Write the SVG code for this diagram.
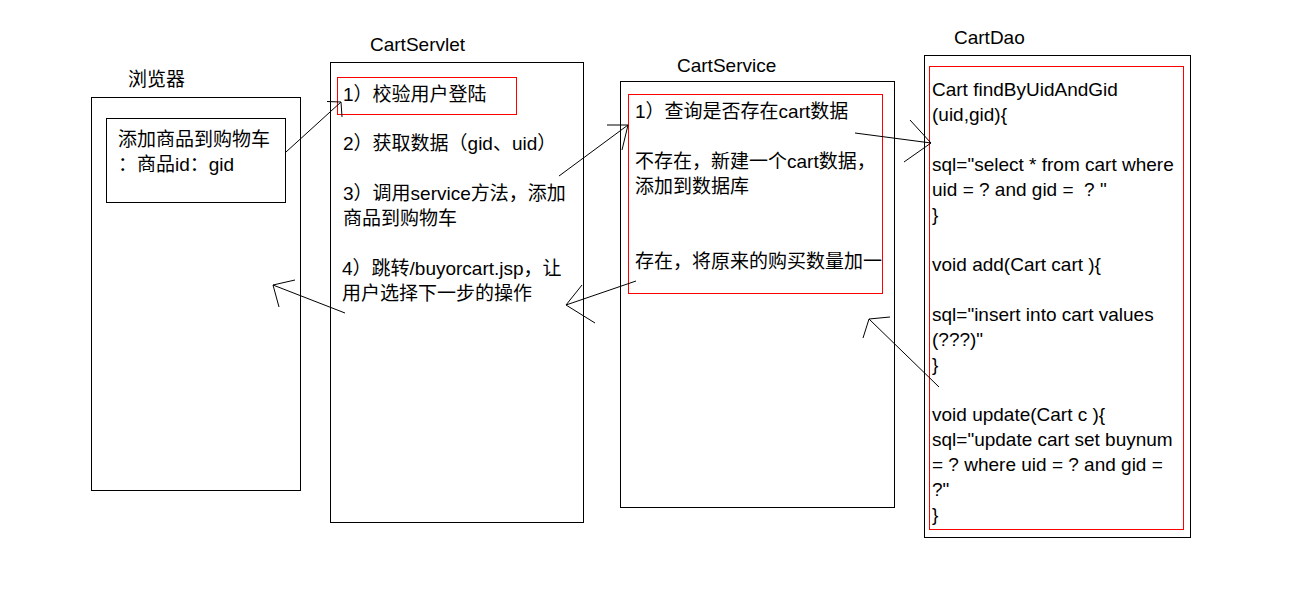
<svg xmlns="http://www.w3.org/2000/svg" width="1303" height="604" viewBox="0 0 1303 604">
<style>
text{font-family:"Liberation Sans","Noto Sans CJK SC",sans-serif;font-size:19px;fill:#000;white-space:pre}
.box{fill:none;stroke:#000;stroke-width:1}
.red{fill:none;stroke:#f00;stroke-width:1}
.c{fill:none;stroke:#000;stroke-width:1}
</style>
<rect width="1303" height="604" fill="#fff"/>
<g id="browser">
<text x="128" y="86">浏览器</text>
<rect class="box" x="91.5" y="97.5" width="209" height="393"/>
<rect class="box" x="106.5" y="118.5" width="179" height="84"/>
<text x="118" y="146">添加商品到购物车</text>
<text x="118" y="171">：商品id：gid</text>
</g>
<g id="cartservlet">
<text x="370" y="51">CartServlet</text>
<rect class="box" x="330.5" y="62.5" width="253" height="460"/>
<rect class="red" x="337.5" y="77.5" width="179" height="37"/>
<text x="343" y="101">1）校验用户登陆</text>
<text x="343" y="150">2）获取数据（gid、uid）</text>
<text x="343" y="200">3）调用service方法，添加</text>
<text x="343" y="225">商品到购物车</text>
<text x="342" y="275">4）跳转/buyorcart.jsp，让</text>
<text x="342" y="300">用户选择下一步的操作</text>
</g>
<g id="cartservice">
<text x="677" y="72">CartService</text>
<rect class="box" x="620.5" y="81.5" width="274" height="426"/>
<rect class="red" x="628.5" y="94.5" width="254" height="199"/>
<text x="635" y="118">1）查询是否存在cart数据</text>
<text x="635" y="168">不存在，新建一个cart数据，</text>
<text x="635" y="193">添加到数据库</text>
<text x="635" y="268">存在，将原来的购买数量加一</text>
</g>
<g id="cartdao">
<text x="954" y="44">CartDao</text>
<rect class="box" x="924.5" y="55.5" width="266" height="482"/>
<rect class="red" x="929.5" y="66.5" width="254" height="463"/>
<text x="932" y="96">Cart findByUidAndGid</text>
<text x="932" y="121">(uid,gid){</text>
<text x="932" y="171">sql="select * from cart where</text>
<text x="932" y="196">uid = ? and gid =  ? "</text>
<text x="932" y="221">}</text>
<text x="932" y="271">void add(Cart cart ){</text>
<text x="932" y="321">sql="insert into cart values</text>
<text x="932" y="346">(???)"</text>
<text x="932" y="371">}</text>
<text x="932" y="421">void update(Cart c ){</text>
<text x="932" y="446">sql="update cart set buynum</text>
<text x="932" y="471">= ? where uid = ? and gid =</text>
<text x="932" y="496">?"</text>
<text x="932" y="521">}</text>
</g>
<g id="connectors">
<line class="c" x1="286" y1="152" x2="341" y2="102"/>
<polyline class="c" points="327,101.5 341,102 342,117"/>
<line class="c" x1="345" y1="313" x2="273" y2="285"/>
<polyline class="c" points="295,280 273,285 279,307"/>
<line class="c" x1="559" y1="176" x2="628" y2="125"/>
<polyline class="c" points="607,125 628,125 622,150"/>
<line class="c" x1="636" y1="281" x2="566" y2="305"/>
<polyline class="c" points="582,285 566,305 595,323"/>
<line class="c" x1="855" y1="133" x2="931" y2="143"/>
<polyline class="c" points="910,120 931,143 904,162"/>
<line class="c" x1="939" y1="387" x2="869" y2="319"/>
<polyline class="c" points="890,317 869,319 863,338"/>
</g>
</svg>
